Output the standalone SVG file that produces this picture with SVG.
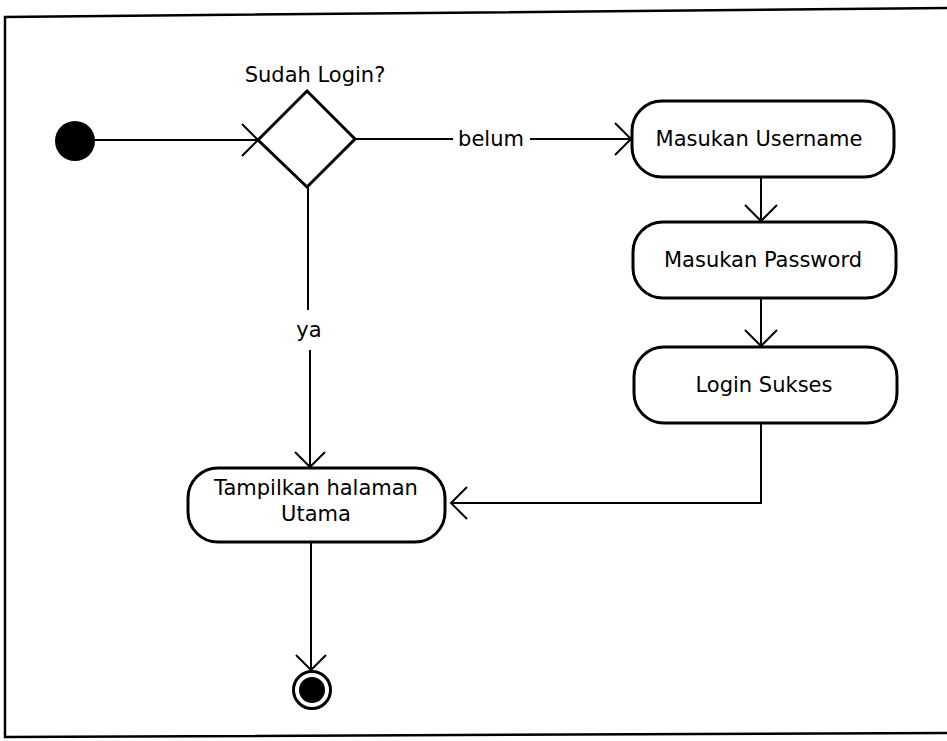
<svg xmlns="http://www.w3.org/2000/svg" width="947" height="741" viewBox="0 0 947 741">
<defs>
<style>
.box{fill:#fff;stroke:#000;stroke-width:3}
.ln{fill:none;stroke:#000;stroke-width:2}
.ah{fill:none;stroke:#000;stroke-width:2}
.t{font-family:"DejaVu Sans",Verdana,sans-serif;font-size:21px;fill:#000;text-anchor:middle}
.frame{fill:none;stroke:#000;stroke-width:2.5}
</style>
</defs>
<rect width="947" height="741" fill="#fff"/>
<path class="frame" d="M947,8 L5,17 L5,737 L947,733"/>

<g id="connectors">
  <line class="ln" x1="88" y1="140" x2="258" y2="140"/>
  <path class="ah" d="M242,124 L258,140 L242,156"/>
  <line class="ln" x1="355" y1="139" x2="453" y2="139"/>
  <line class="ln" x1="530" y1="139" x2="631" y2="139"/>
  <path class="ah" d="M615,123 L631,139 L615,155"/>
  <text class="t" x="491" y="146">belum</text>
  <line class="ln" x1="308" y1="187" x2="308" y2="310"/>
  <line class="ln" x1="310" y1="350" x2="310" y2="467"/>
  <path class="ah" d="M295,452 L310,467 L325,452"/>
  <text class="t" x="309" y="337">ya</text>
  <line class="ln" x1="761" y1="177" x2="761" y2="221"/>
  <path class="ah" d="M745,205 L761,221 L777,205"/>
  <line class="ln" x1="761" y1="298" x2="761" y2="346"/>
  <path class="ah" d="M745,330 L761,346 L777,330"/>
  <polyline class="ln" points="761,423 761,503 451,503"/>
  <path class="ah" d="M467,487 L451,503 L467,519"/>
  <line class="ln" x1="311" y1="542" x2="311" y2="670"/>
  <path class="ah" d="M296,655 L311,670 L326,655"/>
</g>

<g id="start">
  <circle cx="75" cy="141" r="20" fill="#000"/>
</g>

<g id="decision">
  <polygon class="box" points="258,140 307,91 355,139 307,187"/>
  <text class="t" x="315" y="82">Sudah Login?</text>
</g>

<g id="masukan-username">
  <rect class="box" x="632" y="101" width="262" height="76" rx="30" ry="30"/>
  <text class="t" x="759" y="146">Masukan Username</text>
</g>

<g id="masukan-password">
  <rect class="box" x="633" y="222" width="263" height="76" rx="30" ry="30"/>
  <text class="t" x="763" y="267">Masukan Password</text>
</g>

<g id="login-sukses">
  <rect class="box" x="634" y="347" width="263" height="76" rx="30" ry="30"/>
  <text class="t" x="764" y="392">Login Sukses</text>
</g>

<g id="tampilkan">
  <rect class="box" x="188" y="468" width="257" height="74" rx="30" ry="30"/>
  <text class="t" x="316" y="495">Tampilkan halaman</text>
  <text class="t" x="316" y="521">Utama</text>
</g>

<g id="end">
  <circle cx="312" cy="690" r="18.5" fill="#fff" stroke="#000" stroke-width="3"/>
  <circle cx="312" cy="690" r="13" fill="#000"/>
</g>
</svg>
